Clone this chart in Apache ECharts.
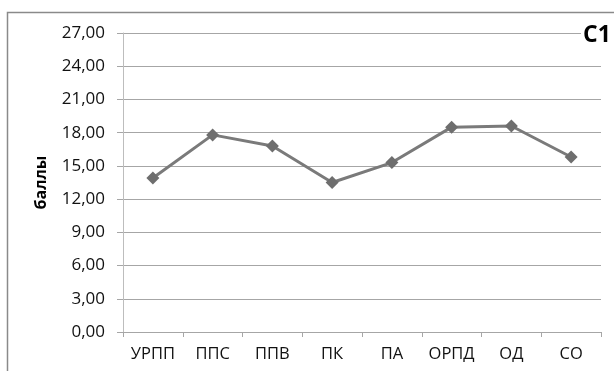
<!DOCTYPE html>
<html>
<head>
<meta charset="utf-8">
<script src="https://cdn.jsdelivr.net/npm/echarts@6/dist/echarts.min.js"></script>
<style>
  html, body { margin: 0; padding: 0; background: #fff; }
  #chart { width: 614px; height: 371px; }
</style>
</head>
<body>
<div id="chart"></div>
<script>
// Средние баллы по шкалам
const categories = ['УРПП', 'ППС', 'ППВ', 'ПК', 'ПА', 'ОРПД', 'ОД', 'СО'];
const scores = [13.9, 17.8, 16.8, 13.5, 15.3, 18.5, 18.6, 15.8];
const yTicks = { min: 0, max: 27, interval: 3 };
const yTitle = 'баллы';
const chartTitle = 'C1';

const chart = echarts.init(document.getElementById('chart'), null, { renderer: 'canvas' });
const font = '"Open Sans", "Liberation Sans", sans-serif';

chart.setOption({
  animation: false,
  backgroundColor: '#fff',
  graphic: [
    {
      type: 'rect',
      shape: { x: 7.5, y: 12.5, width: 620, height: 370 },
      style: { fill: 'none', stroke: '#8a8a8a', lineWidth: 1.5 },
      silent: true,
      z: 0
    },
    {
      type: 'text',
      left: 581, top: 24,
      style: {
        text: chartTitle,
        font: 'bold 23px ' + font,
        fill: '#000',
        backgroundColor: '#fff',
        padding: [0, 2, 0, 2]
      },
      z: 10
    }
  ],
  grid: { left: 123, right: 13, top: 33, bottom: 39, containLabel: false },
  xAxis: {
    type: 'category',
    data: categories,
    boundaryGap: true,
    axisLine: { show: true, lineStyle: { color: '#a6a6a6', width: 1 } },
    axisTick: { show: true, length: 5, interval: 0, lineStyle: { color: '#a6a6a6' } },
    axisLabel: { color: '#111', fontSize: 16.5, fontFamily: font, margin: 14, interval: 0, hideOverlap: false },
    splitLine: { show: false }
  },
  yAxis: {
    type: 'value',
    min: yTicks.min,
    max: yTicks.max,
    interval: yTicks.interval,
    name: yTitle,
    nameLocation: 'middle',
    nameRotate: 90,
    nameGap: 74,
    nameTextStyle: { color: '#000', fontSize: 16, fontWeight: 'bold', fontFamily: font },
    axisLine: { show: true, lineStyle: { color: '#bdbdbd', width: 1 } },
    axisTick: { show: true, length: 6, lineStyle: { color: '#a6a6a6' } },
    axisLabel: {
      color: '#111', fontSize: 17, fontFamily: font, margin: 18,
      formatter: v => v.toFixed(2).replace('.', ',')
    },
    splitLine: { show: true, lineStyle: { color: '#a6a6a6', width: 1 } }
  },
  series: [{
    type: 'line',
    data: scores,
    symbol: 'diamond',
    symbolSize: 13,
    lineStyle: { color: '#7a7a7a', width: 3 },
    itemStyle: { color: '#6e6e6e' },
    z: 5
  }]
});
</script>
</body>
</html>
